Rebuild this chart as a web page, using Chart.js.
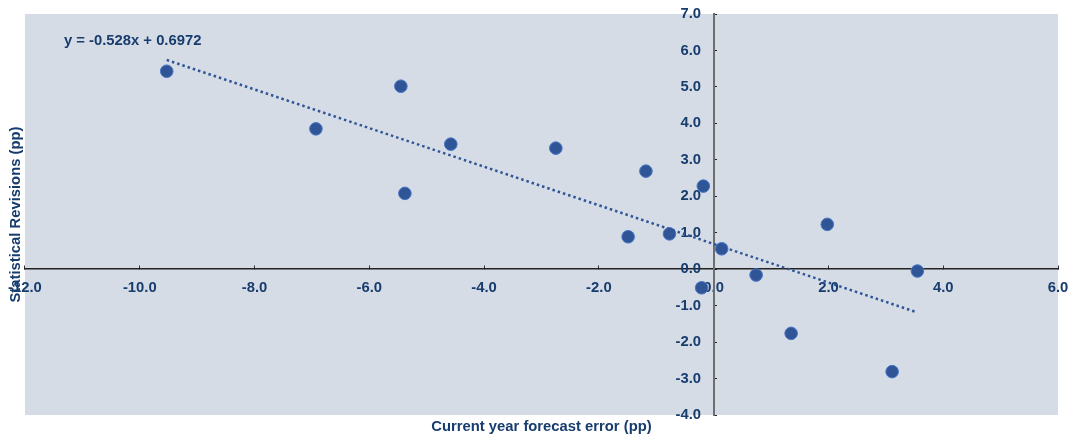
<!DOCTYPE html>
<html>
<head>
<meta charset="utf-8">
<script src="https://cdn.jsdelivr.net/npm/chart.js@4.4.1/dist/chart.umd.min.js"></script>
<style>
  html, body { margin: 0; padding: 0; background: #fff; }
</style>
</head>
<body>
<canvas id="scatterChart" width="1074" height="438"></canvas>
<script>
// Current year forecast error (x) vs statistical revisions (y), in pp
const errorX = [-9.53, -6.93, -5.45, -5.38, -4.58, -2.75, -1.18, -1.49, -0.77, -0.18, -0.21, 0.14, 0.74, 1.35, 1.98, 3.11, 3.55];
const revisionY = [5.43, 3.85, 5.02, 2.08, 3.43, 3.32, 2.69, 0.89, 0.97, 2.28, -0.51, 0.56, -0.16, -1.76, 1.23, -2.81, -0.05];

// linear trend line, ends
const trendX = [-9.53, 3.50];
const trendY = [5.74, -1.16];
const trendLabel = 'y = -0.528x + 0.6972';
const trendLabelAt = [-11.32, 6.26];

// axes
const xRange = [-12, 6];
const yRange = [-4, 7];
const xStep = 2;
const yStep = 1;
const xTitle = 'Current year forecast error (pp)';
const yTitle = 'Statistical Revisions (pp)';

const navy = '#173C6E';
const boldFont = { family: "'Liberation Sans', Arial, sans-serif", size: 14.8, weight: 'bold' };

// axes that cross at zero should not take any room in the layout
function noPadding(scale) {
    scale.paddingLeft = scale.paddingRight = scale.paddingTop = scale.paddingBottom = 0;
}

const plotBg = {
    id: 'plotBg',
    beforeDraw(chart) {
        const { ctx, chartArea: a } = chart;
        ctx.save();
        ctx.fillStyle = '#D5DCE6';
        ctx.fillRect(a.left, a.top, a.width, a.height);
        ctx.restore();
    }
};

const trendText = {
    id: 'trendText',
    afterDraw(chart) {
        const { ctx, scales } = chart;
        ctx.save();
        ctx.font = 'bold 14.8px "Liberation Sans", Arial, sans-serif';
        ctx.fillStyle = navy;
        ctx.textAlign = 'left';
        ctx.textBaseline = 'middle';
        ctx.fillText(trendLabel, scales.x.getPixelForValue(trendLabelAt[0]), scales.y.getPixelForValue(trendLabelAt[1]));
        ctx.restore();
    }
};

const points = errorX.map((x, i) => ({ x: x, y: revisionY[i] }));
const trend = trendX.map((x, i) => ({ x: x, y: trendY[i] }));

new Chart(document.getElementById('scatterChart'), {
    type: 'scatter',
    data: {
        datasets: [
            {
                data: trend,
                showLine: true,
                borderColor: '#2F5597',
                borderWidth: 2.5,
                borderDash: [2.5, 3],
                pointRadius: 0,
                pointHoverRadius: 0,
                fill: false
            },
            {
                data: points,
                backgroundColor: '#2F5597',
                borderColor: '#4A76C6',
                borderWidth: 1,
                pointRadius: 6.3,
                pointHoverRadius: 6.3
            }
        ]
    },
    options: {
        responsive: false,
        devicePixelRatio: 1,
        animation: false,
        layout: { padding: { top: 14, right: 16, left: 0, bottom: 0 } },
        plugins: {
            legend: { display: false },
            tooltip: { enabled: false }
        },
        scales: {
            x: {
                type: 'linear',
                position: { y: 0 },
                min: xRange[0],
                max: xRange[1],
                z: 1,
                afterFit: noPadding,
                grid: { drawOnChartArea: false, drawTicks: true, tickLength: -4, color: '#333', lineWidth: 1 },
                border: { display: true, color: '#222', width: 1.5 },
                ticks: {
                    stepSize: xStep,
                    padding: 13.5,
                    color: navy,
                    font: boldFont,
                    maxRotation: 0,
                    autoSkip: false,
                    callback: v => v.toFixed(1)
                }
            },
            y: {
                type: 'linear',
                position: { x: 0 },
                min: yRange[0],
                max: yRange[1],
                z: 1,
                afterFit: noPadding,
                grid: { drawOnChartArea: false, drawTicks: true, tickLength: -4, color: '#222', lineWidth: 1 },
                border: { display: true, color: '#6E6E6E', width: 2 },
                ticks: { display: false, stepSize: yStep }
            },
            // tick labels of the vertical axis, set a little left of the axis line
            yLab: {
                type: 'linear',
                axis: 'y',
                position: { x: -0.22 },
                min: yRange[0],
                max: yRange[1],
                z: 1,
                afterFit: noPadding,
                grid: { display: false },
                border: { display: false },
                ticks: { stepSize: yStep, color: navy, font: boldFont, callback: v => v.toFixed(1) }
            },
            // axis titles sit on the chart edges
            xT: {
                type: 'linear',
                axis: 'x',
                position: 'bottom',
                min: 0,
                max: 1,
                grid: { display: false, drawTicks: false },
                border: { display: false },
                ticks: { display: false },
                title: { display: true, text: xTitle, color: navy, font: boldFont, padding: { top: 3.1, bottom: 2.1 } }
            },
            yT: {
                type: 'linear',
                axis: 'y',
                position: 'left',
                min: 0,
                max: 1,
                grid: { display: false, drawTicks: false },
                border: { display: false },
                ticks: { display: false },
                title: { display: true, text: yTitle, color: navy, font: boldFont, padding: { top: 6.6, bottom: 0.6 } }
            }
        }
    },
    plugins: [plotBg, trendText]
});
</script>
</body>
</html>
